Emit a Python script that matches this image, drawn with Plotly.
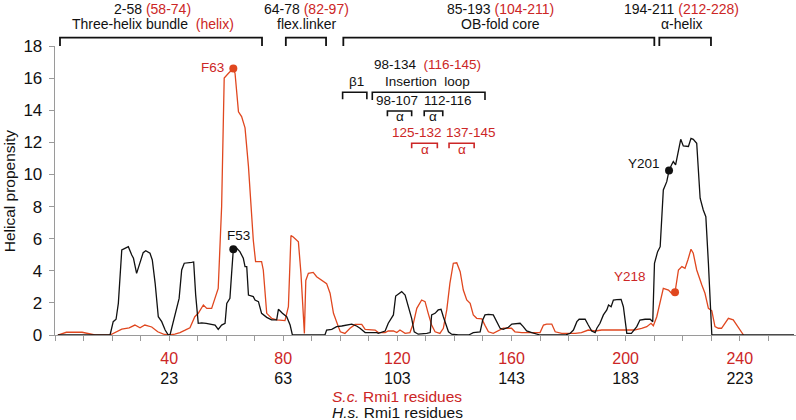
import plotly.graph_objects as go

# ---------------- data ----------------
# S.c. Rmi1 helical propensity, plotted on the S.c. residue axis
sc_x = [1, 3, 4, 9.5, 11, 14, 19.3, 21, 23.4, 26, 28, 29.8, 31.5, 33.9, 36, 38, 39.7, 42, 43.8, 45.6,
        47.3, 49, 50.2, 52, 53.2, 54.9, 57.2, 58.4, 59.3, 60.8, 62.5, 63.1, 64.3, 65.4, 66.6, 67.8,
        69.5, 70.3, 72.4, 73, 74.2, 75.9, 77.7, 80.6, 81.8, 82.7, 83.5, 85.3, 86.2, 87.4, 87.9, 88.8,
        90.5, 91.7, 93.5, 95.2, 96.4, 97.6, 99.3, 100, 101.6, 103.4, 105.2, 107.5, 108.7, 112.2,
        113.3, 115.7, 116.8, 118.6, 119.8, 120.9, 122.7, 124.4, 125.6, 126.8, 128.5, 129.7, 130.8,
        132, 133.2, 134.9, 136.1, 137.3, 138.4, 139.6, 140.8, 142, 143.1, 144.3, 145.5, 146.6, 147.8,
        149.6, 150.7, 151.9, 153.6, 156, 157.1, 160, 161.2, 163.6, 170, 171.2, 172.3, 174.1, 175.3,
        177.6, 182.3, 184.5, 186.9, 189.3, 191.6, 196.3, 200.4, 203, 205.6, 207.4, 208.9, 209.7,
        210.9, 212.1, 213.2, 215, 216.1, 217.3, 218.5, 219.7, 220.8, 221.8, 222.9, 223.7, 224.9,
        226.7, 227.8, 229, 230.2, 231.3, 232.5, 233.6, 234.8, 236, 237.7, 238.9, 241.3]
sc_y = [0, 0.1, 0.17, 0.17, 0.1, 0, 0, 0.15, 0.37, 0.45, 0.62, 0.45, 0.62, 0.5, 0.2, 0.05, 0, 0.05, 0.15, 0.3,
        0.45, 1.14, 1.35, 1.87, 1.66, 1.66, 2.9, 8.0, 16.0, 16.3, 16.6, 16.3, 13.9, 13.6, 12.9, 10.5,
        5.9, 4.57, 4.57, 4.05, 1.35, 1.04, 0.94, 0.9, 1.76, 6.2, 6.1, 5.8, 3.84, 0.1, 3.4, 3.84,
        3.9, 3.63, 3.4, 3.2, 2.6, 1.35, 0.52, 0.2, 0.1, 0.42, 0.66, 0.66, 0.35, 0.31,
        0.15, 0.15, 0.25, 0.25, 0.15, 0.31, 0.1, 0.15, 0.73, 1.66, 2.18, 2.08, 1.35,
        0.62, 0.2, 0.1, 0.42, 1.56, 3.22, 4.47, 4.5, 3.94, 2.8, 2.18, 1.97, 1.25, 1.04,
        1.0, 0.6, 0.2, 0.1, 0.31, 0.42, 0.42, 0.2, 0.15, 0.15, 0.62, 0.68, 0.68, 0.2,
        0.1, 0.1, 0.15, 0.31, 0.25, 0.31, 0.31, 0.31, 0.31, 0.42, 0.52, 0.73, 0.58,
        1.14, 2.18, 2.91, 2.8, 2.6, 2.66, 4.05, 4.26, 4.15, 4.67, 5.34, 5.09, 4.05,
        3.12, 2.6, 1.66, 1.51, 0.52, 0.42, 0.42, 0.73, 1.04, 0.94, 0.62, 0]

# H.s. Rmi1 helical propensity, aligned on the same axis (H.s. residue + 17)
hs_x = [1, 19.3, 20.4, 21.4, 22.2, 23.4, 24.5, 25.7, 26.9, 27.5, 28.6, 29.8, 30.9, 31.8, 33.3, 34.1,
        35.1, 36.2, 37.4, 38.6, 39.7, 40.3, 42.1, 43.5, 44.4, 45.3, 47.9, 48.6, 49.3, 50.2, 51.4,
        53, 56.1, 57.2, 58.4, 59.6, 60.2, 61.3, 61.9, 62.5, 63.7, 64.8, 66, 66.6, 67.2, 67.8, 69.5,
        70.1, 71.3, 72.4, 74.2, 75.9, 77.7, 78.3, 79.7, 81.2, 82.4, 83.2, 94.6, 95.2, 97, 98.7,
        100.5, 102.2, 104, 105.7, 106.9, 108.7, 112.8, 113.3, 115.7, 116.8, 118, 118.6, 119.4,
        120.3, 121.5, 122.7, 123.8, 125, 125.9, 127.3, 130.3, 131.5, 132, 133.2, 134.3, 135.3,
        136.1, 137, 137.9, 139, 141.4, 145, 146.6, 149, 149.9, 150.7, 151.9, 153.6, 154.8, 156,
        157.1, 158.9, 160.1, 161.8, 163, 164.1, 165.3, 167.1, 168.8, 170, 178.8, 180.5, 181.7,
        182.9, 183.7, 185.8, 186.9, 188.1, 189.3, 189.9, 191, 192.2, 193.4, 194, 194.9, 195.7,
        196.9, 198.4, 199.2, 200.4, 202, 203.9, 205, 206.8, 208.6, 209.5, 210.1, 211.2, 212.1,
        212.6, 213.2, 214.4, 215.2, 216.1, 216.7, 217.5, 218.5, 219.3, 220.2, 222, 222.9, 223.7,
        224.9, 226.1, 227.2, 228.1, 229, 230.2, 259]
hs_y = [0, 0, 0.83, 0.98, 1.97, 5.3, 5.4, 5.5, 4.98, 4.78, 3.84, 4.47, 5.13, 5.25, 5.09, 4.67,
        3.22, 1.14, 0.83, 0.31, 0, 0, 1.35, 2.28, 4.05, 4.47, 4.53, 4.55, 2.5, 0.73, 0.75,
        0.73, 0.62, 0.35, 0.62, 0.73, 1.97, 2.28, 3.84, 5.34, 5.4, 5.19, 4.78, 4.26, 4.26, 2.49, 2.39,
        2.18, 2.08, 1.35, 1.1, 0.94, 0.94, 1.6, 1.35, 1.14, 0.62, 0, 0, 0.31, 0.35, 0.52,
        0.56, 0.62, 0.68, 0.56, 0.42, 0.15, 0.15, 0.1, 0.25, 0.73, 1.04, 1.25, 2.43,
        2.53, 2.7, 2.49, 1.87, 1.04, 0.2, 0.05, 0.1, 0.15, 1.25, 1.35, 1.56, 1.6,
        1.14, 0.62, 0.2, 0.05, 0, 0, 0.15, 0.2, 0.93, 1.25, 1.29, 1.25, 0.83, 0.42,
        0.35, 0.48, 0.68, 0.73, 0.73, 0.52, 0.25, 0.15, 0.05, 0, 0, 0.1, 0.31,
        0.83, 0.98, 0.98, 0.62, 0.25, 0.15, 0.42, 0.73, 1.25, 1.56, 1.87, 1.76, 2.18,
        2.2, 2.22, 1.76, 0.1, 0.1, 0.52, 0.93, 0.98, 0.98, 0.83, 4.47, 5.19, 5.5,
        7.17, 9.03, 9.55, 10.24, 10.6, 10.8, 10.6, 11.53, 12.19, 11.78, 11.74, 12.25, 12.19,
        11.94, 8.52, 7.79, 7.37, 4.47, 0, 0]

# highlighted residues
sc_mark_x = [62.5, 217.3]
sc_mark_y = [16.6, 2.66]
sc_mark_labels = ["F63", "Y218"]
hs_mark_x = [62.5, 215.2]
hs_mark_y = [5.34, 10.24]
hs_mark_labels = ["F53", "Y201"]

# axis ticks
minor_tick_vals = [0, 10, 20, 30, 40, 50, 60, 70, 80, 90, 100, 110, 120, 130, 140, 150, 160, 170,
                   180, 190, 200, 210, 220, 230, 240, 250]
sc_tick_labels = [40, 80, 120, 160, 200, 240]
hs_tick_labels = [23, 63, 103, 143, 183, 223]
y_tick_vals = [0, 2, 4, 6, 8, 10, 12, 14, 16, 18]

# domain brackets above the plot: (start, end, black label, red label, name, red name)
top_domains = [
    (1.75, 72.55, "2-58", "(58-74)", "Three-helix bundle", "(helix)"),
    (80.9, 95.0, "64-78", "(82-97)", "flex.linker", ""),
    (101.05, 210.05, "85-193", "(104-211)", "OB-fold core", ""),
    (211.8, 229.9, "194-211", "(212-228)", "\u03b1-helix", ""),
]
top_label_x = [34.3, 88.0, 156.0, 219.6]

# sub-structure brackets inside the plot
beta_bracket = (100.8, 109.3)
loop_bracket = (111.2, 150.7)
hs_alpha = [(116.5, 125.0), (129.4, 135.9)]
hs_alpha_labels = ["98-107", "112-116"]
hs_alpha_label_x = [119.7, 137.7]
sc_alpha = [(125.0, 134.0), (138.1, 146.9)]
sc_alpha_labels = ["125-132", "137-145"]
sc_alpha_label_x = [126.9, 145.8]

# ---------------- styling ----------------
RED_LINE = "#e0471f"
RED_TXT = "#cc2626"
BLACK = "#111111"
AXIS = "#9a9a9a"
FONT = "Liberation Sans, Arial, sans-serif"

fig = go.Figure()
fig.add_trace(go.Scatter(x=sc_x, y=sc_y, mode="lines", line=dict(color=RED_LINE, width=1.3),
                         hoverinfo="skip", showlegend=False))
fig.add_trace(go.Scatter(x=hs_x, y=hs_y, mode="lines", line=dict(color=BLACK, width=1.3),
                         hoverinfo="skip", showlegend=False))
fig.add_trace(go.Scatter(x=hs_mark_x, y=hs_mark_y, mode="markers",
                         marker=dict(color=BLACK, size=8), cliponaxis=False, showlegend=False))
fig.add_trace(go.Scatter(x=sc_mark_x, y=sc_mark_y, mode="markers",
                         marker=dict(color=RED_LINE, size=8), cliponaxis=False, showlegend=False))

ann = []
shapes = []

# marker labels
mark_offsets = {"F63": (-7, 1, "right"), "Y218": (-27, 16, "right"),
                "F53": (5, 14, "center"), "Y201": (-7, 7, "right")}
for xs, ys, labs, col in [(sc_mark_x, sc_mark_y, sc_mark_labels, RED_TXT),
                          (hs_mark_x, hs_mark_y, hs_mark_labels, BLACK)]:
    for xv, yv, lab in zip(xs, ys, labs):
        dx, dy, xa = mark_offsets[lab]
        ann.append(dict(x=xv, y=yv, xref="x", yref="y", text=lab, showarrow=False,
                        xanchor=xa, yanchor="middle", xshift=dx, yshift=dy,
                        font=dict(size=13.5, color=col)))

# top domain brackets (paper y above the plot)
TOP_Y = 1.0287
for (x0, x1, num, rnum, name, rname), lx in zip(top_domains, top_label_x):
    shapes.append(dict(type="path", xref="x", yref="paper",
                       path=f"M {x0},1.0 L {x0},{TOP_Y} L {x1},{TOP_Y} L {x1},1.0",
                       line=dict(color=BLACK, width=1.8)))
    line1 = f"{num} <span style='color:{RED_TXT}'>{rnum}</span>" if rnum else num
    line2 = f"{name}  <span style='color:{RED_TXT}'>{rname}</span>" if rname else name
    ann.append(dict(x=lx, y=1.1285, xref="x", yref="paper", text=line1, showarrow=False,
                    xanchor="center", yanchor="middle", font=dict(size=14, color=BLACK)))
    ann.append(dict(x=lx, y=1.0744, xref="x", yref="paper", text=line2, showarrow=False,
                    xanchor="center", yanchor="middle", font=dict(size=14, color=BLACK)))


def bracket(x0, x1, ytop, yleg, col, w=1.6):
    shapes.append(dict(type="path", xref="x", yref="y",
                       path=f"M {x0},{yleg} L {x0},{ytop} L {x1},{ytop} L {x1},{yleg}",
                       line=dict(color=col, width=w)))


bracket(beta_bracket[0], beta_bracket[1], 15.12, 14.68, BLACK)
bracket(loop_bracket[0], loop_bracket[1], 15.12, 14.64, BLACK)
for (a, b) in hs_alpha:
    bracket(a, b, 13.95, 13.62, BLACK)
for (a, b) in sc_alpha:
    bracket(a, b, 11.94, 11.63, RED_TXT)

small = dict(size=13.5, color=BLACK)
ann.append(dict(x=130.4, y=16.82, text=f"98-134  <span style='color:{RED_TXT}'>(116-145)</span>",
                showarrow=False, font=small))
ann.append(dict(x=105.5, y=15.76, text="\u03b21", showarrow=False, font=small))
ann.append(dict(x=130.4, y=15.76, text="Insertion  loop", showarrow=False, font=small))
for lx, lab in zip(hs_alpha_label_x, hs_alpha_labels):
    ann.append(dict(x=lx, y=14.59, text=lab, showarrow=False, font=small))
for (a, b) in hs_alpha:
    ann.append(dict(x=(a + b) / 2, y=13.62, text="\u03b1", showarrow=False, font=small))
for lx, lab in zip(sc_alpha_label_x, sc_alpha_labels):
    ann.append(dict(x=lx, y=12.6, text=lab, showarrow=False,
                    font=dict(size=13.5, color=RED_TXT)))
for (a, b) in sc_alpha:
    ann.append(dict(x=(a + b) / 2, y=11.56, text="\u03b1", showarrow=False,
                    font=dict(size=13.5, color=RED_TXT)))

# axis titles
ann.append(dict(x=120, y=-0.2145, xref="x", yref="paper",
                text="<i>S.c.</i> Rmi1 residues", showarrow=False,
                font=dict(size=15.5, color=RED_TXT), yanchor="middle"))
ann.append(dict(x=120, y=-0.268, xref="x", yref="paper",
                text="<i>H.s.</i> Rmi1 residues", showarrow=False,
                font=dict(size=15.5, color=BLACK), yanchor="middle"))
ann.append(dict(x=-0.061, y=0.5, xref="paper", yref="paper", text="Helical propensity",
                textangle=-90, showarrow=False, font=dict(size=15.5, color=BLACK),
                xanchor="center", yanchor="middle"))

tick_text = []
for v in minor_tick_vals:
    if v in sc_tick_labels:
        i = sc_tick_labels.index(v)
        tick_text.append(f"<span style='color:{RED_TXT}'>{v}</span><br>{hs_tick_labels[i]}")
    else:
        tick_text.append("")

fig.update_layout(
    width=796, height=420,
    margin=dict(l=55, r=0, t=46, b=85, autoexpand=False),
    paper_bgcolor="white", plot_bgcolor="white",
    font=dict(family=FONT, color=BLACK),
    annotations=ann, shapes=shapes,
    showlegend=False,
)
fig.update_xaxes(range=[0, 259.7], tickmode="array", tickvals=minor_tick_vals, ticktext=tick_text,
                 ticks="outside", ticklen=5, tickcolor=AXIS, tickwidth=1, ticklabelstandoff=3,
                 showline=True, linecolor=AXIS, linewidth=1.3, showgrid=False, zeroline=False,
                 automargin=False, tickfont=dict(size=16, color=BLACK))
fig.update_yaxes(range=[0, 18], tickmode="array", tickvals=y_tick_vals,
                 ticks="outside", ticklen=5, tickcolor=AXIS, tickwidth=1, ticklabelstandoff=3,
                 showline=True, linecolor=AXIS, linewidth=1.3, showgrid=False, zeroline=False,
                 automargin=False, tickfont=dict(size=17, color=BLACK))

# remove the default page margin so the 796x420 figure fills the window exactly
fig.write_html("out.html", config={"displayModeBar": False, "staticPlot": True},
               post_script="document.body.style.margin='0';document.body.style.overflow='hidden';")
